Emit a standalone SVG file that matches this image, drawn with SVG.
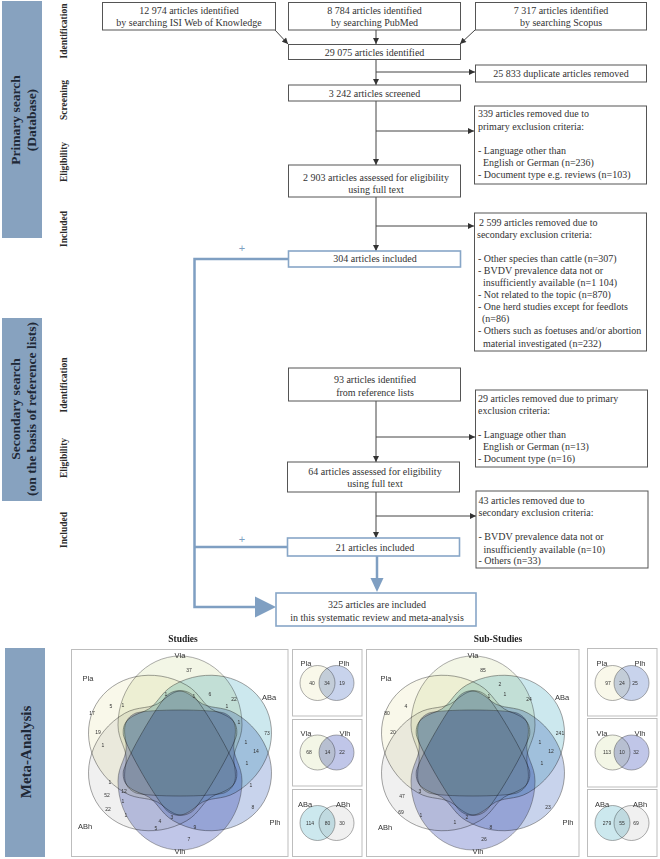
<svg xmlns="http://www.w3.org/2000/svg" width="660" height="859" viewBox="0 0 660 859">
<style>
.bx{fill:#fff;stroke:#555;stroke-width:1}
.bb{fill:#fff;stroke:#87a6c7;stroke-width:1.6}
.t{font-family:"Liberation Serif","Times New Roman",serif;font-size:10px;fill:#333}
.c{text-anchor:middle}
.lab{font-family:"Liberation Serif","Times New Roman",serif;font-weight:bold;font-size:9.5px;fill:#2b2b2b;text-anchor:middle}
.bar{fill:#87a2bf}
.bart{font-family:"Liberation Serif","Times New Roman",serif;font-weight:bold;font-size:13.5px;fill:#1e2836;text-anchor:middle}
.ln{stroke:#444;stroke-width:1;fill:none}
.bl{stroke:#7f9fc2;stroke-width:2.5;fill:none}
.blf{fill:#7f9fc2}
.vn{font-family:"Liberation Sans",Arial,sans-serif;font-size:5px;fill:#333;text-anchor:middle}
.vl{font-family:"Liberation Sans",Arial,sans-serif;font-size:7.5px;fill:#333;text-anchor:middle}
.pn{fill:#fff;stroke:#bdbdbd;stroke-width:1}
.vs{mix-blend-mode:multiply;stroke:#5a5a5a;stroke-width:0.5}
.pla{fill:#f9f8ea}.vla{fill:#f3f6e6}.aba{fill:#cce8ee}.plh{fill:#c8d3ec}.vlh{fill:#c0c6e8}.abh{fill:#f0f0f0}
.ttl{font-family:"Liberation Serif","Times New Roman",serif;font-weight:bold;font-size:9.5px;fill:#222;text-anchor:middle}
</style>
<defs>
<marker id="ah" viewBox="0 0 10 10" refX="10" refY="5" markerWidth="7" markerHeight="6" markerUnits="userSpaceOnUse" orient="auto"><path d="M0,0 L10,5 L0,10 z" fill="#333"/></marker>
<path id="vs" d="M0,-97 C34,-97 62,-66 62,-28 C62,-12 52,-4 54,10 C56,22 58,34 44,40 C30,44 -30,44 -44,40 C-58,34 -56,22 -54,10 C-52,-4 -62,-12 -62,-28 C-62,-66 -34,-97 0,-97 Z"/>
</defs>
<rect width="660" height="859" fill="#fff"/>

<g id="bars">
<rect class="bar" x="2" y="1" width="40" height="237"/>
<text class="bart" transform="translate(22,120) rotate(-90)"><tspan x="0" y="-2.5">Primary search</tspan><tspan x="0" y="13.5">(Database)</tspan></text>
<rect class="bar" x="2" y="318" width="40" height="183"/>
<text class="bart" transform="translate(22,409) rotate(-90)"><tspan x="0" y="-2.5">Secondary search</tspan><tspan x="0" y="13.5">(on the basis of reference lists)</tspan></text>
<rect class="bar" x="5" y="648" width="40" height="209"/>
<text class="bart" style="font-size:15px" transform="translate(30.5,752) rotate(-90)" x="0" y="0">Meta-Analysis</text>
</g>

<g id="phase-labels">
<text class="lab" transform="translate(67,31) rotate(-90)">Identification</text>
<text class="lab" transform="translate(67,100) rotate(-90)">Screening</text>
<text class="lab" transform="translate(67,162) rotate(-90)">Eligibility</text>
<text class="lab" transform="translate(67,229) rotate(-90)">Included</text>
<text class="lab" transform="translate(67,385) rotate(-90)">Identification</text>
<text class="lab" transform="translate(67,458) rotate(-90)">Eligibility</text>
<text class="lab" transform="translate(67,530) rotate(-90)">Included</text>
</g>

<g id="connectors">
<path class="ln" d="M275,30 L288,44" marker-end="url(#ah)"/>
<path class="ln" d="M475,30 L460,44" marker-end="url(#ah)"/>
<path class="ln" d="M376,30 V44" marker-end="url(#ah)"/>
<path class="ln" d="M376,60 V85" marker-end="url(#ah)"/>
<path class="ln" d="M376,72 H475" marker-end="url(#ah)"/>
<path class="ln" d="M376,101 V165" marker-end="url(#ah)"/>
<path class="ln" d="M376,131 H474" marker-end="url(#ah)"/>
<path class="ln" d="M376,197 V251" marker-end="url(#ah)"/>
<path class="ln" d="M376,226 H474" marker-end="url(#ah)"/>
<path class="ln" d="M376,401 V462" marker-end="url(#ah)"/>
<path class="ln" d="M376,437 H475" marker-end="url(#ah)"/>
<path class="ln" d="M376,492 V538" marker-end="url(#ah)"/>
<path class="ln" d="M376,516 H476" marker-end="url(#ah)"/>
<path class="bl" d="M288,259 H194.5 V607 H258"/>
<polygon class="blf" points="255,596.5 276,607 255,617.5"/>
<path class="bl" d="M287,547 H194.5"/>
<path class="bl" d="M377,556 V579"/>
<polygon class="blf" points="370.5,578 377,592 383.5,578"/>
<text x="242" y="251.5" style="font-family:'Liberation Sans',Arial,sans-serif;font-size:11px;fill:#7f9fc2;text-anchor:middle">+</text>
<text x="242" y="542.5" style="font-family:'Liberation Sans',Arial,sans-serif;font-size:11px;fill:#7f9fc2;text-anchor:middle">+</text>
</g>

<g id="n-isi"><rect class="bx" x="102.5" y="2.5" width="173" height="27.5"/>
<text class="t c" x="189" y="13.5">12 974 articles identified</text><text class="t c" x="189" y="25.5">by searching ISI Web of Knowledge</text></g>
<g id="n-pubmed"><rect class="bx" x="288.5" y="2.5" width="172" height="27.5"/>
<text class="t c" x="374.5" y="13.5">8 784 articles identified</text><text class="t c" x="374.5" y="25.5">by searching PubMed</text></g>
<g id="n-scopus"><rect class="bx" x="475.5" y="2.5" width="171" height="27.5"/>
<text class="t c" x="561" y="13.5">7 317 articles identified</text><text class="t c" x="561" y="25.5">by searching Scopus</text></g>
<g id="n-29075"><rect class="bx" x="288.5" y="44.5" width="172" height="15"/>
<text class="t c" x="374.5" y="55.5">29 075 articles identified</text></g>
<g id="n-dup"><rect class="bx" x="475.5" y="65" width="171" height="17"/>
<text class="t c" x="561" y="77">25 833 duplicate articles removed</text></g>
<g id="n-3242"><rect class="bx" x="288.5" y="85" width="172" height="16"/>
<text class="t c" x="374.5" y="96.5">3 242 articles screened</text></g>
<g id="n-339"><rect class="bx" x="474.5" y="106" width="172" height="78"/>
<text class="t" x="478" y="117">339 articles removed due to</text>
<text class="t" x="478" y="130">primary exclusion criteria:</text>
<text class="t" x="478" y="154">- Language other than</text>
<text class="t" x="483" y="166">English or German (n=236)</text>
<text class="t" x="478" y="178">- Document type e.g. reviews (n=103)</text></g>
<g id="n-2903"><rect class="bx" x="288.5" y="165" width="172" height="32"/>
<text class="t c" x="376" y="180.5">2 903 articles assessed for eligibility</text><text class="t c" x="376" y="193">using full text</text></g>
<g id="n-2599"><rect class="bx" x="474.5" y="213" width="172" height="138"/>
<text class="t" x="479" y="225.5">2 599 articles removed due to</text>
<text class="t" x="477" y="237.5">secondary exclusion criteria:</text>
<text class="t" x="478" y="261.8">- Other species than cattle (n=307)</text>
<text class="t" x="478" y="274">- BVDV prevalence data not or</text>
<text class="t" x="483" y="286">insufficiently available (n=1 104)</text>
<text class="t" x="478" y="298">- Not related to the topic (n=870)</text>
<text class="t" x="478" y="310.2">- One herd studies except for feedlots</text>
<text class="t" x="482" y="322.4">(n=86)</text>
<text class="t" x="478" y="334.4">- Others such as foetuses and/or abortion</text>
<text class="t" x="483" y="346.6">material investigated (n=232)</text></g>
<g id="n-304"><rect class="bb" x="288.5" y="251" width="172" height="16"/>
<text class="t c" x="375" y="262">304 articles included</text></g>
<g id="n-93"><rect class="bx" x="288.5" y="368" width="172" height="33"/>
<text class="t c" x="375" y="383">93 articles identified</text><text class="t c" x="375" y="395.5">from reference lists</text></g>
<g id="n-29"><rect class="bx" x="475.5" y="390" width="172" height="77"/>
<text class="t" x="478" y="402">29 articles removed due to primary</text>
<text class="t" x="478" y="414">exclusion criteria:</text>
<text class="t" x="478" y="438">- Language other than</text>
<text class="t" x="483" y="450">English or German (n=13)</text>
<text class="t" x="478" y="462">- Document type (n=16)</text></g>
<g id="n-64"><rect class="bx" x="287.5" y="462" width="172" height="30"/>
<text class="t c" x="375" y="474.5">64 articles assessed for eligibility</text><text class="t c" x="375" y="487">using full text</text></g>
<g id="n-43"><rect class="bx" x="476" y="491" width="172" height="77"/>
<text class="t" x="478.5" y="504">43 articles removed due to</text>
<text class="t" x="478.5" y="516">secondary exclusion criteria:</text>
<text class="t" x="478.5" y="540">- BVDV prevalence data not or</text>
<text class="t" x="483.5" y="552.5">insufficiently available (n=10)</text>
<text class="t" x="478.5" y="564">- Others (n=33)</text></g>
<g id="n-21"><rect class="bb" x="287.5" y="538" width="172" height="18"/>
<text class="t c" x="375" y="551">21 articles included</text></g>
<g id="n-325"><rect class="bb" x="276" y="593" width="200" height="33"/>
<text class="t c" x="377" y="608">325 articles are included</text><text class="t c" x="377" y="621">in this systematic review and meta-analysis</text></g>

<g id="venn-studies" style="isolation:isolate">
<text class="ttl" x="183" y="642">Studies</text>
<rect class="pn" x="71.5" y="649.5" width="216.5" height="207"/>
<g transform="translate(180,753)">
<use href="#vs" class="vs pla" transform="rotate(300)"/>
<use href="#vs" class="vs vla"/>
<use href="#vs" class="vs abh" transform="rotate(240)"/>
<use href="#vs" class="vs aba" transform="rotate(60)"/>
<use href="#vs" class="vs vlh" transform="rotate(180)"/>
<use href="#vs" class="vs plh" transform="rotate(120)"/>
</g>
<text class="vl" x="180" y="658">Vla</text><text class="vl" x="269" y="700">ABa</text><text class="vl" x="275" y="825">Plh</text>
<text class="vl" x="180" y="854">Vlh</text><text class="vl" x="85" y="829">ABh</text><text class="vl" x="88" y="681">Pla</text>
<g>
<text class="vn" x="189" y="671.8">37</text><text class="vn" x="166" y="695.8">1</text><text class="vn" x="194" y="697.8">1</text>
<text class="vn" x="210" y="695.8">6</text><text class="vn" x="234" y="700.8">22</text><text class="vn" x="227" y="707.8">1</text>
<text class="vn" x="111" y="707.8">5</text><text class="vn" x="123" y="706.8">1</text><text class="vn" x="92" y="714.8">17</text>
<text class="vn" x="98" y="733.8">19</text><text class="vn" x="103" y="746.8">1</text><text class="vn" x="239" y="723.8">1</text>
<text class="vn" x="267" y="734.8">73</text><text class="vn" x="246" y="743.8">1</text><text class="vn" x="256" y="752.8">14</text>
<text class="vn" x="247" y="764.8">1</text><text class="vn" x="251" y="786.8">1</text><text class="vn" x="110" y="783.8">1</text>
<text class="vn" x="124" y="792.8">12</text><text class="vn" x="107" y="796.8">52</text><text class="vn" x="123" y="802.8">1</text>
<text class="vn" x="108" y="810.8">22</text><text class="vn" x="126" y="816.8">1</text><text class="vn" x="160" y="822.8">4</text>
<text class="vn" x="172" y="818.8">3</text><text class="vn" x="156" y="829.8">5</text><text class="vn" x="195" y="828.8">9</text>
<text class="vn" x="253" y="808.8">8</text><text class="vn" x="189" y="840.8">7</text>
</g>
</g>

<g id="venn-studies-pairs" style="isolation:isolate">
<rect class="pn" x="292.5" y="649.5" width="69.5" height="66.5"/>
<circle class="vs pla" cx="317.5" cy="683" r="17.5"/><circle class="vs plh" cx="336.5" cy="683" r="17.5"/>
<text class="vl" x="306" y="666">Pla</text><text class="vl" x="344" y="666">Plh</text>
<text class="vn" x="312" y="684.8">40</text><text class="vn" x="327" y="684.8">34</text><text class="vn" x="342" y="684.8">19</text>
<rect class="pn" x="292.5" y="719.5" width="69.5" height="66.5"/>
<circle class="vs vla" cx="317.5" cy="752.5" r="17.5"/><circle class="vs vlh" cx="336.5" cy="752.5" r="17.5"/>
<text class="vl" x="306" y="736">Vla</text><text class="vl" x="345" y="736">Vlh</text>
<text class="vn" x="309" y="754.3">68</text><text class="vn" x="327.5" y="754.3">14</text><text class="vn" x="342" y="754.3">22</text>
<rect class="pn" x="292.5" y="789.5" width="69.5" height="67"/>
<circle class="vs aba" cx="317.5" cy="823" r="17.5"/><circle class="vs abh" cx="336.5" cy="823" r="17.5"/>
<text class="vl" x="305" y="806.5">ABa</text><text class="vl" x="343" y="806.5">ABh</text>
<text class="vn" x="310" y="824.8">114</text><text class="vn" x="327.5" y="824.8">80</text><text class="vn" x="342" y="824.8">30</text>
</g>

<g id="venn-substudies" style="isolation:isolate">
<text class="ttl" x="498" y="642">Sub-Studies</text>
<rect class="pn" x="366.5" y="649.5" width="212.5" height="207"/>
<g transform="translate(473,753)">
<use href="#vs" class="vs pla" transform="rotate(300)"/>
<use href="#vs" class="vs vla"/>
<use href="#vs" class="vs abh" transform="rotate(240)"/>
<use href="#vs" class="vs aba" transform="rotate(60)"/>
<use href="#vs" class="vs vlh" transform="rotate(180)"/>
<use href="#vs" class="vs plh" transform="rotate(120)"/>
</g>
<text class="vl" x="473" y="658">Vla</text><text class="vl" x="562" y="700">ABa</text><text class="vl" x="568" y="825">Plh</text>
<text class="vl" x="478" y="854">Vlh</text><text class="vl" x="385" y="830">ABh</text><text class="vl" x="386" y="681">Pla</text>
<g>
<text class="vn" x="483" y="671.8">85</text><text class="vn" x="500" y="685.8">2</text><text class="vn" x="489" y="697.8">1</text>
<text class="vn" x="505" y="695.8">1</text><text class="vn" x="529" y="700.8">24</text><text class="vn" x="406" y="707.8">4</text>
<text class="vn" x="387" y="714.8">80</text><text class="vn" x="393" y="733.8">20</text><text class="vn" x="560" y="734.8">241</text>
<text class="vn" x="540" y="743.8">1</text><text class="vn" x="551" y="752.8">12</text><text class="vn" x="542" y="764.8">1</text>
<text class="vn" x="420" y="792.8">3</text><text class="vn" x="402" y="797.8">47</text><text class="vn" x="401" y="813.8">69</text>
<text class="vn" x="421" y="816.8">1</text><text class="vn" x="455" y="823.8">1</text><text class="vn" x="467" y="818.8">2</text>
<text class="vn" x="491" y="828.8">8</text><text class="vn" x="548" y="808.8">23</text><text class="vn" x="484" y="840.8">26</text>
</g>
</g>

<g id="venn-substudies-pairs" style="isolation:isolate">
<rect class="pn" x="587.5" y="648.5" width="69.5" height="67.5"/>
<circle class="vs pla" cx="612.5" cy="683" r="17.5"/><circle class="vs plh" cx="631.5" cy="683" r="17.5"/>
<text class="vl" x="602" y="666">Pla</text><text class="vl" x="640" y="666">Plh</text>
<text class="vn" x="608" y="684.8">97</text><text class="vn" x="622" y="684.8">24</text><text class="vn" x="635" y="684.8">25</text>
<rect class="pn" x="587.5" y="718.5" width="69.5" height="68.5"/>
<circle class="vs vla" cx="612.5" cy="752.5" r="17.5"/><circle class="vs vlh" cx="631.5" cy="752.5" r="17.5"/>
<text class="vl" x="602" y="736">Vla</text><text class="vl" x="640" y="736">Vlh</text>
<text class="vn" x="607" y="754.3">113</text><text class="vn" x="622" y="754.3">10</text><text class="vn" x="636" y="754.3">32</text>
<rect class="pn" x="587.5" y="789.5" width="69.5" height="67"/>
<circle class="vs aba" cx="612.5" cy="823" r="17.5"/><circle class="vs abh" cx="631.5" cy="823" r="17.5"/>
<text class="vl" x="602" y="806.5">ABa</text><text class="vl" x="640" y="806.5">ABh</text>
<text class="vn" x="607" y="824.8">279</text><text class="vn" x="622" y="824.8">55</text><text class="vn" x="636" y="824.8">69</text>
</g>
</svg>
